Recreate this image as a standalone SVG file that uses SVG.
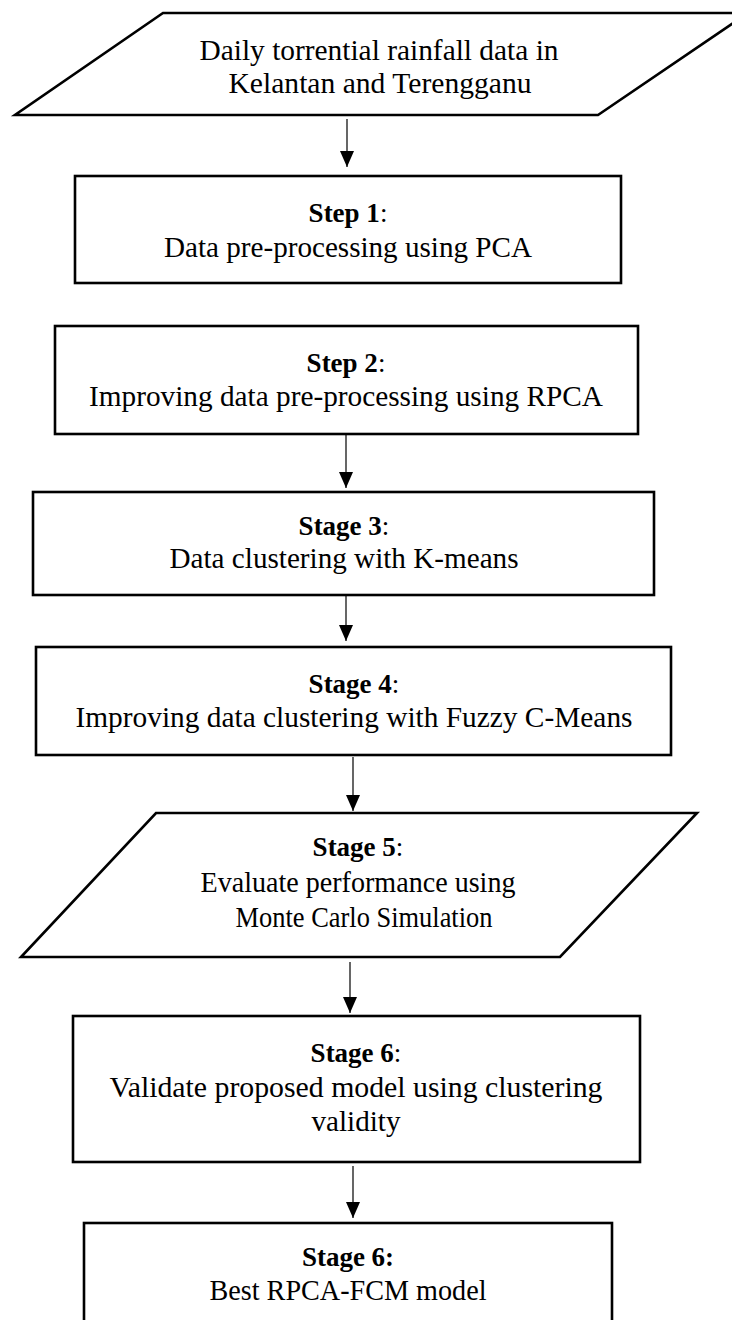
<svg xmlns="http://www.w3.org/2000/svg" width="732" height="1320" viewBox="0 0 732 1320">
  <style>
    .shape { fill: #ffffff; stroke: #000000; stroke-width: 2.6; }
    .conn { stroke: #000000; stroke-width: 1.2; fill: none; }
    text { font-family: "Liberation Serif", "Times New Roman", serif; font-size: 30px; fill: #000000; text-anchor: middle; }
    .lbl { font-size: 27px; }
    .b { font-weight: bold; }
  </style>
  <defs>
    <marker id="arrow" viewBox="0 -7 16 14" refX="16" refY="0" markerWidth="16" markerHeight="14" markerUnits="userSpaceOnUse" orient="auto">
      <path d="M0,-7 L16,0 L0,7 z" fill="#000000"/>
    </marker>
  </defs>
  <rect width="732" height="1320" fill="#ffffff"/>

  <g id="connectors">
    <line class="conn" x1="347" y1="119" x2="347" y2="167" marker-end="url(#arrow)"/>
    <line class="conn" x1="346" y1="435" x2="346" y2="488" marker-end="url(#arrow)"/>
    <line class="conn" x1="346" y1="596" x2="346" y2="641" marker-end="url(#arrow)"/>
    <line class="conn" x1="353" y1="757" x2="353" y2="811" marker-end="url(#arrow)"/>
    <line class="conn" x1="350" y1="962" x2="350" y2="1013" marker-end="url(#arrow)"/>
    <line class="conn" x1="353" y1="1166" x2="353" y2="1218" marker-end="url(#arrow)"/>
  </g>

  <g id="input">
    <polygon class="shape" points="163,13 748,13 598,115 15,115"/>
    <text x="379" y="60" textLength="359" lengthAdjust="spacingAndGlyphs">Daily torrential rainfall data in</text>
    <text x="380" y="93" textLength="303" lengthAdjust="spacingAndGlyphs">Kelantan and Terengganu</text>
  </g>

  <g id="step1">
    <rect class="shape" x="75" y="176" width="546" height="107"/>
    <text class="lbl" x="348" y="222"><tspan class="b">Step 1</tspan>:</text>
    <text x="348" y="257" textLength="368" lengthAdjust="spacingAndGlyphs">Data pre-processing using PCA</text>
  </g>

  <g id="step2">
    <rect class="shape" x="55" y="326" width="583" height="108"/>
    <text class="lbl" x="346" y="372"><tspan class="b">Step 2</tspan>:</text>
    <text x="346" y="406" textLength="514" lengthAdjust="spacingAndGlyphs">Improving data pre-processing using RPCA</text>
  </g>

  <g id="stage3">
    <rect class="shape" x="33" y="492" width="621" height="103"/>
    <text class="lbl" x="344" y="535"><tspan class="b">Stage 3</tspan>:</text>
    <text x="344" y="568" textLength="349" lengthAdjust="spacingAndGlyphs">Data clustering with K-means</text>
  </g>

  <g id="stage4">
    <rect class="shape" x="36" y="647" width="635" height="108"/>
    <text class="lbl" x="354" y="693"><tspan class="b">Stage 4</tspan>:</text>
    <text x="354" y="727" textLength="557" lengthAdjust="spacingAndGlyphs">Improving data clustering with Fuzzy C-Means</text>
  </g>

  <g id="stage5">
    <polygon class="shape" points="156,813 697,813 560,957 21,957"/>
    <text class="lbl" x="358" y="856"><tspan class="b">Stage 5</tspan>:</text>
    <text x="358" y="892" textLength="315" lengthAdjust="spacingAndGlyphs">Evaluate performance using</text>
    <text x="364" y="927" textLength="257" lengthAdjust="spacingAndGlyphs">Monte Carlo Simulation</text>
  </g>

  <g id="stage6">
    <rect class="shape" x="73" y="1016" width="567" height="146"/>
    <text class="lbl" x="356" y="1062"><tspan class="b">Stage 6</tspan>:</text>
    <text x="356" y="1097" textLength="493" lengthAdjust="spacingAndGlyphs">Validate proposed model using clustering</text>
    <text x="356" y="1131" textLength="89" lengthAdjust="spacingAndGlyphs">validity</text>
  </g>

  <g id="final">
    <rect class="shape" x="84" y="1223" width="528" height="110"/>
    <text class="lbl b" x="348" y="1266">Stage 6:</text>
    <text x="348" y="1300" textLength="277" lengthAdjust="spacingAndGlyphs">Best RPCA-FCM model</text>
  </g>
</svg>
